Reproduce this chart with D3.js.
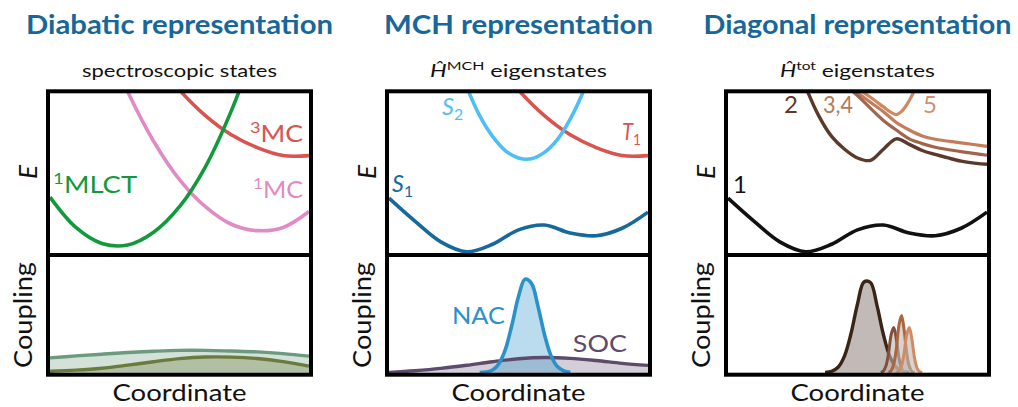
<!DOCTYPE html>
<html>
<head>
<meta charset="utf-8">
<script src="https://cdn.jsdelivr.net/npm/d3@7"></script>
<style>
body { margin: 0; background: #fff; }
text { font-family: Lato, "Open Sans", sans-serif; }
</style>
</head>
<body>
<svg id="chart" width="1018" height="407"></svg>
<script>
// ---- data (coordinate 0..10, energy / coupling in arbitrary units 0..10) ----
const coord = [0, 1, 2, 3, 4, 5, 6, 7, 8, 9, 10]

// diabatic panel
const mlctX = [0, 1, 2, 3, 4, 5, 6, 7, 8]
const mlctE = [3.5, 1.6, 0.6, 0.5, 1.3, 2.9, 5.4, 8.9, 13.2]
const mc1X = [2, 3, 4, 5, 6, 7, 8, 9, 10]
const mc1E = [13.8, 10.1, 7.0, 4.6, 2.9, 1.8, 1.4, 1.6, 2.6]
const mc3X = [4, 5, 6, 7, 8, 9, 10]
const mc3E = [12.2, 10.2, 8.6, 7.4, 6.6, 6.1, 6.1]
const diabCplUpper = [1.28, 1.45, 1.6, 1.74, 1.85, 1.93, 1.93, 1.87, 1.8, 1.65, 1.43]
const diabCplLower = [0.13, 0.22, 0.38, 0.65, 0.95, 1.22, 1.36, 1.35, 1.23, 0.96, 0.57]

// MCH panel
const s1E = [3.44, 2.0, 0.7, 0.08, 0.55, 1.45, 1.75, 1.25, 1.08, 1.55, 2.56]
const s2X = [2.5, 3, 3.5, 4, 4.5, 5, 5.5, 6, 6.5, 7, 7.5, 8]
const s2E = [12.6, 10.4, 8.6, 7.3, 6.4, 5.95, 5.9, 6.3, 7.1, 8.4, 10.1, 12.2]
const t1X = [4, 5, 6, 7, 8, 9, 10]
const t1E = [12.2, 10.2, 8.6, 7.4, 6.6, 6.1, 6.1]
const nacX = [3.5, 3.75, 4, 4.25, 4.5, 4.75, 5, 5.25, 5.5, 5.75, 6, 6.25, 6.5, 6.75, 7]
const nacC = [0.01, 0.06, 0.24, 0.8, 2.06, 4.17, 6.58, 8.08, 7.72, 5.75, 3.33, 1.5, 0.53, 0.15, 0.03]
const socC = [0.02, 0.17, 0.37, 0.64, 0.95, 1.2, 1.31, 1.24, 1.05, 0.81, 0.63]

// diagonal panel
const diag1E = [3.44, 2.0, 0.7, 0.08, 0.55, 1.45, 1.75, 1.25, 1.08, 1.55, 2.56]
const diag2X = [2.5, 3, 3.5, 4, 4.5, 5, 5.5, 6, 6.5, 7, 7.5, 8, 8.5, 9, 9.5, 10]
const diag2E = [12.6, 10.4, 8.6, 7.3, 6.5, 5.95, 5.8, 6.5, 7.15, 6.8, 6.42, 6.17, 5.95, 5.75, 5.63, 5.56]
const diag34X = [4, 5, 6, 6.5, 7, 7.5, 8, 9, 10]
const diag3E = [11.3, 9.85, 8.3, 7.7, 7.15, 6.85, 6.62, 6.35, 6.12]
const diag4E = [11.6, 10.05, 8.85, 8.17, 7.7, 7.33, 7.12, 6.9, 6.68]
const diag5X = [5, 5.5, 6, 6.25, 6.5, 6.75, 7, 7.25, 7.5]
const diag5E = [10.3, 9.75, 9.15, 8.85, 8.67, 8.95, 9.55, 10.35, 11.3]
const peak2X = [3.75, 4, 4.25, 4.5, 4.75, 5, 5.25, 5.5, 5.75, 6, 6.25, 6.5, 6.75, 7]
const peak2C = [0.02, 0.12, 0.47, 1.46, 3.39, 5.94, 7.84, 7.8, 5.84, 3.3, 1.4, 0.45, 0.11, 0.02]
const peak3X = [5.9, 6.0, 6.1, 6.2, 6.3, 6.4, 6.5, 6.6, 6.7, 6.8, 6.9]
const peak3C = [0.02, 0.15, 0.6, 1.7, 3.3, 3.9, 2.9, 1.3, 0.4, 0.08, 0.01]
const peak4X = [6.2, 6.3, 6.4, 6.5, 6.6, 6.7, 6.8, 6.9, 7.0, 7.1, 7.2]
const peak4C = [0.02, 0.18, 0.75, 2.1, 4.1, 4.95, 3.7, 1.7, 0.55, 0.1, 0.01]
const peak5X = [6.5, 6.6, 6.7, 6.8, 6.9, 7.0, 7.1, 7.2, 7.3, 7.4, 7.5]
const peak5C = [0.02, 0.15, 0.6, 1.7, 3.3, 3.9, 2.9, 1.3, 0.4, 0.08, 0.01]

const titles = ['Diabatic representation', 'MCH representation', 'Diagonal representation']

// ---- layout ----
const svg = d3.select('#chart')
const panelLeft = [48, 387, 726]
const panelW = 263
const topY = 91.3, midY = 255, botY = 374.7
const blue = '#17679a'

let scalesFor = (i) => {
  let left = panelLeft[i]
  return {
    x: d3.scaleLinear().domain([0, 10]).range([left + 2, left + panelW - 2]),
    e: d3.scaleLinear().domain([0, 10]).range([midY - 2, topY + 2]),
    c: d3.scaleLinear().domain([0, 10]).range([botY - 2, midY + 2])
  }
}

let curve = d3.curveCatmullRom.alpha(0.5)
let pairs = (xs, ys) => xs.map((v, k) => [v, ys[k]])

let line = (g, s, ys, xs, yScale, color, w) => {
  g.append('path')
    .datum(pairs(xs, ys))
    .attr('d', d3.line().x(d => s.x(d[0])).y(d => yScale(d[1])).curve(curve))
    .attr('fill', 'none')
    .attr('stroke', color)
    .attr('stroke-width', w || 3.6)
    .attr('stroke-linejoin', 'round')
}

let area = (g, s, ys, xs, color, op) => {
  g.append('path')
    .datum(pairs(xs, ys))
    .attr('d', d3.area().x(d => s.x(d[0])).y0(s.c(0)).y1(d => s.c(d[1])).curve(curve))
    .attr('fill', color)
    .attr('fill-opacity', op)
}

// text with optional super/subscripts
let label = (parent, x, y, parts, o) => {
  let t = parent.append('text')
    .attr('x', x).attr('y', y)
    .attr('font-size', o.size)
    .attr('fill', o.color || '#111')
    .attr('text-anchor', o.anchor || 'start')
  if (o.bold) t.attr('font-weight', 'bold')
  if (o.rotate) t.attr('transform', `rotate(-90 ${x} ${y})`)
  let shift = 0
  parts.forEach(p => {
    let sp = t.append('tspan').text(p.t)
    let want = 0
    if (p.sup) { sp.attr('font-size', o.size * 0.68); want = -o.size * 0.4 }
    if (p.sub) { sp.attr('font-size', o.size * 0.68); want = o.size * 0.22 }
    if (p.it) sp.attr('font-style', 'italic')
    if (want !== shift) sp.attr('dy', want - shift)
    shift = want
  })
  if (o.width) t.attr('textLength', o.width).attr('lengthAdjust', 'spacingAndGlyphs')
  return t
}

const panels = []
for (let i = 0; i < 3; i++) {
  let s = scalesFor(i)
  let left = panelLeft[i]
  let defs = svg.append('defs')
  defs.append('clipPath').attr('id', 'ct' + i).append('rect')
    .attr('x', left).attr('y', topY).attr('width', panelW).attr('height', midY - topY)
  defs.append('clipPath').attr('id', 'cb' + i).append('rect')
    .attr('x', left).attr('y', midY).attr('width', panelW).attr('height', botY - midY)
  let gt = svg.append('g').attr('clip-path', `url(#ct${i})`)
  let gb = svg.append('g').attr('clip-path', `url(#cb${i})`)
  panels.push({ s, gt, gb, left, mid: left + panelW / 2 })
}

// ---- diabatic ----
{
  let { s, gt, gb } = panels[0]
  line(gt, s, mc1E, mc1X, s.e, '#e08bc4')
  line(gt, s, mc3E, mc3X, s.e, '#d9534f')
  line(gt, s, mlctE, mlctX, s.e, '#12993b')
  area(gb, s, diabCplUpper, coord, '#6c9a7e', 0.3)
  area(gb, s, diabCplLower, coord, '#6b7b3b', 0.32)
  line(gb, s, diabCplUpper, coord, s.c, '#6c9a7e', 3.4)
  line(gb, s, diabCplLower, coord, s.c, '#6b7b3b', 3.4)
  label(svg, s.x(0.12), s.e(3.75), [{ t: '1', sup: true }, { t: 'MLCT' }], { size: 23, color: '#12993b', width: 84 })
  label(svg, s.x(9.77), s.e(6.94), [{ t: '3', sup: true }, { t: 'MC' }], { size: 23, color: '#d9534f', anchor: 'end', width: 53 })
  label(svg, s.x(9.77), s.e(3.44), [{ t: '1', sup: true }, { t: 'MC' }], { size: 23, color: '#e08bc4', anchor: 'end', width: 50 })
}

// ---- MCH ----
{
  let { s, gt, gb } = panels[1]
  line(gt, s, t1E, t1X, s.e, '#d9534f')
  line(gt, s, s2E, s2X, s.e, '#4dbff4')
  line(gt, s, s1E, coord, s.e, '#16699a')
  area(gb, s, socC, coord, '#5d4b6b', 0.27)
  area(gb, s, nacC, nacX, '#2b91c9', 0.32)
  line(gb, s, socC, coord, s.c, '#5d4b6b', 3.4)
  line(gb, s, nacC, nacX, s.c, '#2b91c9', 3.6)
  label(svg, s.x(2.05), s.e(8.63), [{ t: 'S', it: true }, { t: '2', sub: true }], { size: 23, color: '#4dbff4', width: 21 })
  label(svg, s.x(9.73), s.e(7.06), [{ t: 'T', it: true }, { t: '1', sub: true }], { size: 23, color: '#d9534f', anchor: 'end', width: 19 })
  label(svg, s.x(0.12), s.e(3.81), [{ t: 'S', it: true }, { t: '1', sub: true }], { size: 23, color: '#16699a', width: 21 })
  label(svg, s.x(2.43), s.c(4.2), [{ t: 'NAC' }], { size: 23, color: '#2b91c9', width: 53 })
  label(svg, s.x(7.1), s.c(1.77), [{ t: 'SOC' }], { size: 23, color: '#5d4b6b', width: 54 })
}

// ---- diagonal ----
{
  let { s, gt, gb } = panels[2]
  line(gt, s, diag5E, diag5X, s.e, '#cd8a62', 3.2)
  line(gt, s, diag4E, diag34X, s.e, '#c27e5a', 3.2)
  line(gt, s, diag3E, diag34X, s.e, '#a0654a', 3.2)
  line(gt, s, diag2E, diag2X, s.e, '#5b3a2b', 3.4)
  line(gt, s, diag1E, coord, s.e, '#111', 3.6)
  area(gb, s, peak2C, peak2X, '#c1bab7', 1)
  line(gb, s, peak2C, peak2X, s.c, '#3a2418', 3.4)
  let small = [[peak3C, peak3X, '#82503a'], [peak4C, peak4X, '#a9663f'], [peak5C, peak5X, '#d38a60']]
  small.forEach(([c, xs, col]) => {
    area(gb, s, c, xs, '#bdb5b2', 0.6)
    line(gb, s, c, xs, s.c, col, 3)
  })
  label(svg, s.x(0.19), s.e(3.75), [{ t: '1' }], { size: 24, color: '#111' })
  label(svg, s.x(2.16), s.e(8.75), [{ t: '2' }], { size: 24, color: '#5b3a2b' })
  label(svg, s.x(3.67), s.e(8.75), [{ t: '3,4' }], { size: 24, color: '#b07a5c', width: 30 })
  label(svg, s.x(7.53), s.e(8.75), [{ t: '5' }], { size: 24, color: '#d09070' })
}

// ---- frames, titles and axis labels ----
const subtitleParts = [
  [{ t: 'spectroscopic states' }],
  [{ t: 'Ĥ', it: true }, { t: 'MCH', sup: true }, { t: ' eigenstates' }],
  [{ t: 'Ĥ', it: true }, { t: 'tot', sup: true }, { t: ' eigenstates' }]
]
const titleWidths = [307, 269, 308]
const subtitleWidths = [195, 177, 155]

panels.forEach((p, i) => {
  svg.append('rect').attr('x', p.left).attr('y', topY).attr('width', panelW).attr('height', midY - topY)
    .attr('fill', 'none').attr('stroke', '#000').attr('stroke-width', 4)
  svg.append('rect').attr('x', p.left).attr('y', midY).attr('width', panelW).attr('height', botY - midY)
    .attr('fill', 'none').attr('stroke', '#000').attr('stroke-width', 4)
  label(svg, p.mid, 34, [{ t: titles[i] }], { size: 26, bold: true, color: blue, anchor: 'middle', width: titleWidths[i] })
  label(svg, p.mid, 77, subtitleParts[i], { size: 18, anchor: 'middle', width: subtitleWidths[i] })
  label(svg, p.mid, 401, [{ t: 'Coordinate' }], { size: 24, anchor: 'middle', width: 134 })
  label(svg, p.left - 11, 172, [{ t: 'E', it: true }], { size: 26, anchor: 'middle', rotate: true })
  label(svg, p.left - 16, 315, [{ t: 'Coupling' }], { size: 25, anchor: 'middle', width: 106, rotate: true })
})
</script>
</body>
</html>
